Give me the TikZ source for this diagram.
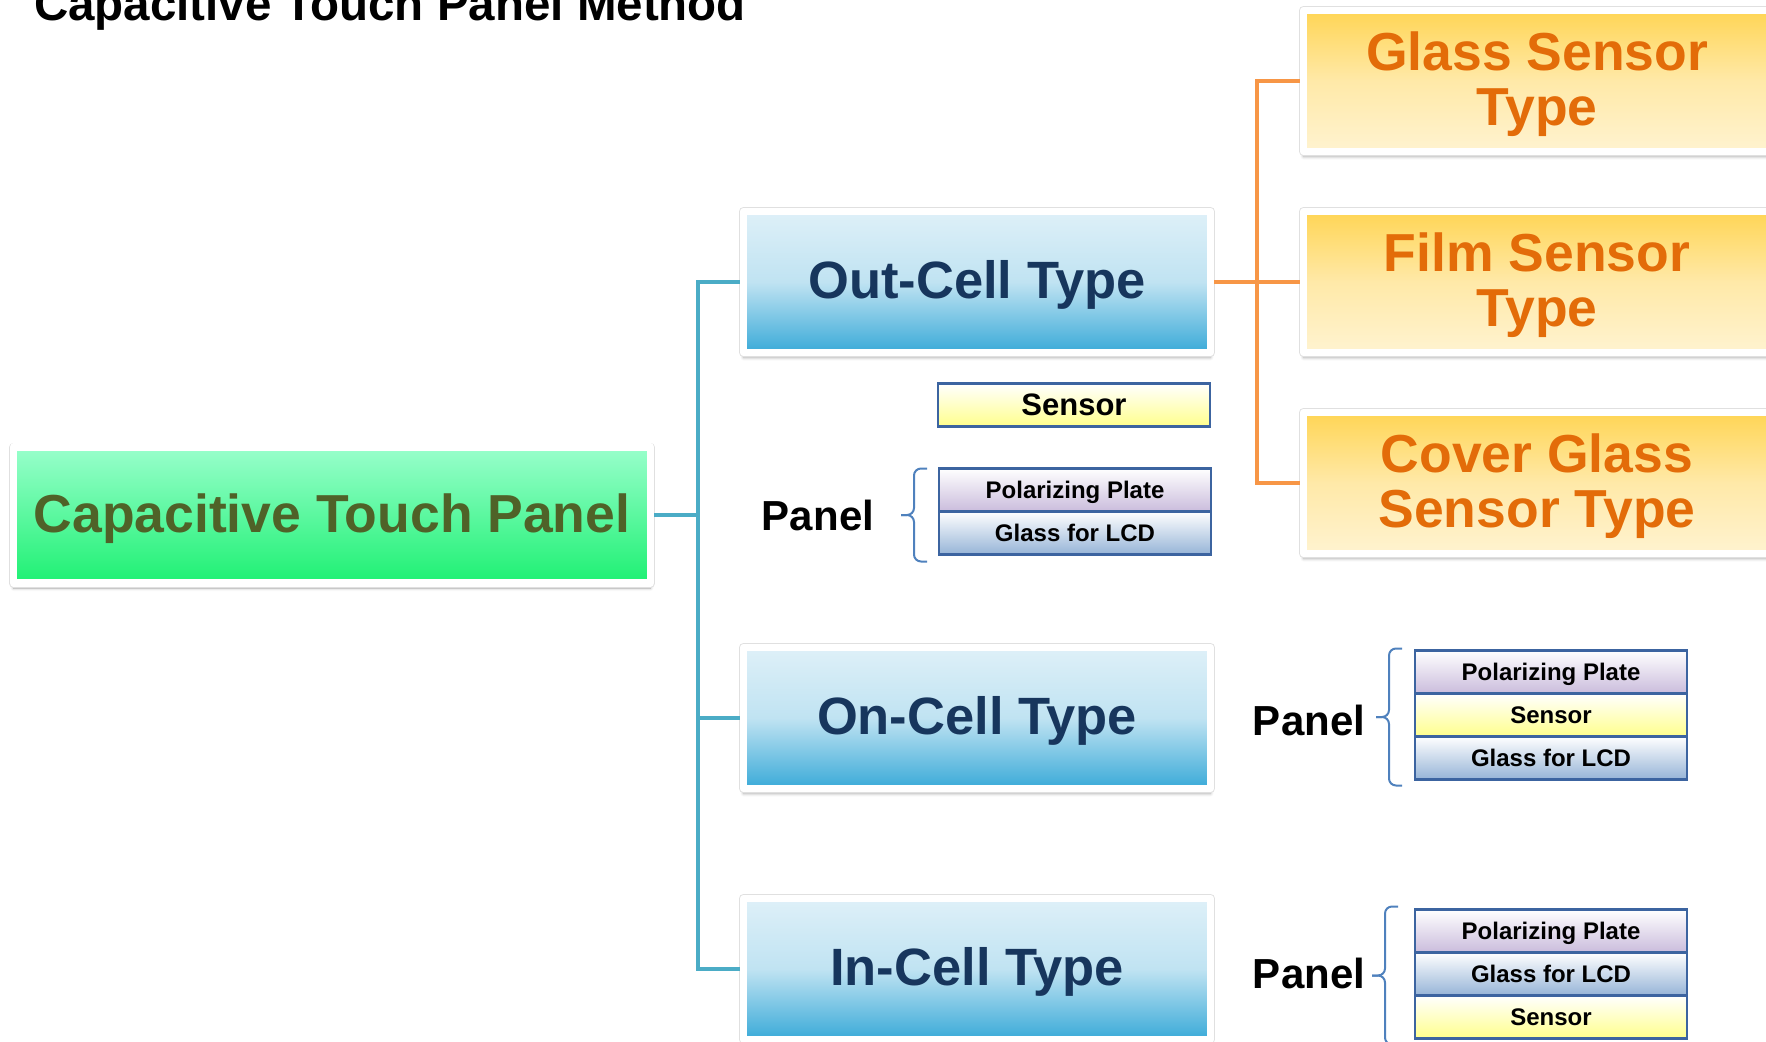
\documentclass[tikz,border=0pt]{standalone}
\usepackage{fontspec}
\setmainfont{Liberation Sans}
\usetikzlibrary{positioning, calc, shadows.blur}

\definecolor{rootTop}{RGB}{153,255,204}
\definecolor{rootBot}{RGB}{30,240,115}
\definecolor{rootText}{RGB}{79,98,40}
\definecolor{cellTop}{RGB}{222,240,248}
\definecolor{cellMid}{RGB}{192,227,242}
\definecolor{cellBot}{RGB}{58,170,216}
\definecolor{cellText}{RGB}{23,54,93}
\definecolor{sensTop}{RGB}{255,213,85}
\definecolor{sensMid}{RGB}{255,233,168}
\definecolor{sensBot}{RGB}{255,243,208}
\definecolor{sensText}{RGB}{227,108,9}
\definecolor{tealLine}{RGB}{75,172,198}
\definecolor{orangeLine}{RGB}{247,150,70}
\definecolor{layerEdge}{RGB}{60,100,160}
\definecolor{braceBlue}{RGB}{79,129,189}
\definecolor{polBot}{RGB}{202,188,220}
\definecolor{snsBot}{RGB}{255,255,140}
\definecolor{lcdBot}{RGB}{150,180,215}

\begin{document}
\begin{tikzpicture}[x=1pt, y=-1pt,
	frame/.style={draw=white, line width=7.5pt, line join=round, inner sep=0pt,
		minimum width=467pt, minimum height=141pt, align=center, text depth=4.5pt,
		blur shadow={shadow xshift=0pt, shadow yshift=-5pt, shadow blur radius=3pt, shadow opacity=35},
		preaction={draw=black!12, line width=9pt},
		font=\bfseries\fontsize{52.5}{55}\selectfont},
	rootbox/.style={frame, top color=rootTop, bottom color=rootBot, text=rootText,
		minimum width=637pt, minimum height=136pt, font=\bfseries\fontsize{53.5}{55}\selectfont},
	cellbox/.style={frame, top color=cellTop, bottom color=cellBot, middle color=cellMid, text=cellText},
	sensorbox/.style={frame, top color=sensTop, bottom color=sensBot, middle color=sensMid, text=sensText,
		font=\bfseries\fontsize{53.5}{55}\selectfont},
	layer/.style={draw=layerEdge, line width=2.5pt, outer sep=0pt, inner sep=0pt,
		minimum width=272pt, minimum height=43pt, top color=white, text depth=0pt,
		font=\bfseries\fontsize{24}{24}\selectfont},
	pol/.style={layer, bottom color=polBot},
	sns/.style={layer, bottom color=snsBot},
	lcd/.style={layer, bottom color=lcdBot},
	panel/.style={anchor=base, inner sep=0pt, font=\bfseries\fontsize{42}{42}\selectfont},
	panelbrace/.style={draw=braceBlue, line width=2pt, rounded corners=7pt},
	tealline/.style={draw=tealLine, line width=4.5pt},
	orangeline/.style={draw=orangeLine, line width=4.5pt}]
	\useasboundingbox (0,0) rectangle (1766,1041);
	\clip (0,0) rectangle (1766,1041);

	\node[anchor=base west, inner sep=0pt, font=\bfseries\fontsize{47.5}{50}\selectfont] (title) at (34,21) {Capacitive Touch Panel Method};

	\node[rootbox] (root) at (332,515) {Capacitive Touch Panel};
	\node[cellbox] (outcell) at (977,282) {Out-Cell Type};
	\node[cellbox] (oncell) at (977,718) {On-Cell Type};
	\node[cellbox] (incell) at (977,969) {In-Cell Type};
	\node[sensorbox] (glass) at (1537,81) {Glass Sensor\\Type};
	\node[sensorbox] (film) at (1537,282) {Film Sensor\\Type};
	\node[sensorbox] (cover) at (1537,483) {Cover Glass\\Sensor Type};

	\coordinate (bt) at (698,515);
	\coordinate (ot) at (1257,282);
	\draw[tealline] (root.east) -- (bt) |- (outcell.west)
	                (bt) |- (oncell.west)
	                (bt) |- (incell.west);
	\draw[orangeline] (outcell.east) -- (ot) -- (film.west)
	                  (ot) |- (glass.west)
	                  (ot) |- (cover.west);

	% out-cell layers
	\node[sns, font=\bfseries\fontsize{31}{31}\selectfont] (sns1) at (1074,405) {Sensor};
	\node[pol] (pol1) at (1075,490) {Polarizing Plate};
	\node[lcd, below=0pt of pol1] (lcd1) {Glass for LCD};
	\node[panel] (panel1) at (818,530) {Panel};
	\coordinate (b1t) at ([xshift=-12pt]pol1.north west);
	\coordinate (b1b) at ([xshift=-12pt,yshift=-7pt]lcd1.south west);
	\draw[panelbrace] (b1t) -- ++(-13,0) |- ($(b1t)!.5!(b1b)+(-26,0)$);
	\draw[panelbrace] (b1b) -- ++(-13,0) |- ($(b1t)!.5!(b1b)+(-26,0)$);

	% on-cell layers
	\node[pol] (pol2) at (1551,672) {Polarizing Plate};
	\node[sns, below=0pt of pol2] (sns2) {Sensor};
	\node[lcd, below=0pt of sns2] (lcd2) {Glass for LCD};
	\node[panel] (panel2) at (1309,735) {Panel};
	\coordinate (b2t) at ([xshift=-13pt,yshift=2pt]pol2.north west);
	\coordinate (b2b) at ([xshift=-13pt,yshift=-6pt]lcd2.south west);
	\draw[panelbrace] (b2t) -- ++(-13,0) |- ($(b2t)!.5!(b2b)+(-26,0)$);
	\draw[panelbrace] (b2b) -- ++(-13,0) |- ($(b2t)!.5!(b2b)+(-26,0)$);

	% in-cell layers
	\node[pol] (pol3) at (1551,931) {Polarizing Plate};
	\node[lcd, below=0pt of pol3] (lcd3) {Glass for LCD};
	\node[sns, below=0pt of lcd3] (sns3) {Sensor};
	\node[panel] (panel3) at (1309,988) {Panel};
	\coordinate (b3t) at ([xshift=-17pt,yshift=3pt]pol3.north west);
	\coordinate (b3b) at ([xshift=-17pt,yshift=-6pt]sns3.south west);
	\draw[panelbrace] (b3t) -- ++(-13,0) |- ($(b3t)!.5!(b3b)+(-26,0)$);
	\draw[panelbrace] (b3b) -- ++(-13,0) |- ($(b3t)!.5!(b3b)+(-26,0)$);
\end{tikzpicture}
\end{document}
